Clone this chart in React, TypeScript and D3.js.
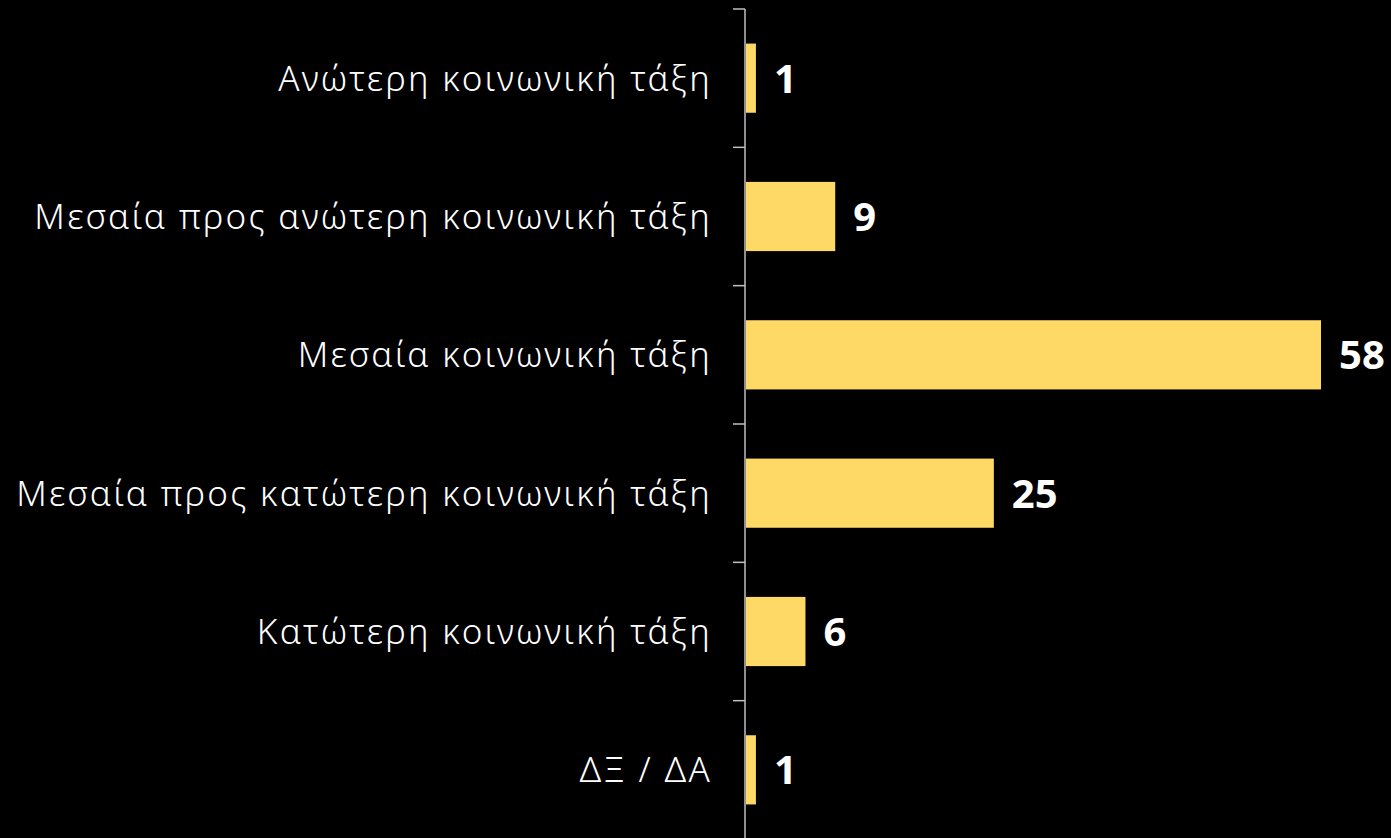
import React, { useEffect, useRef } from 'react';
import * as d3 from 'd3';

// categories top to bottom, values in %
const categories = [
    'Ανώτερη κοινωνική τάξη',
    'Μεσαία προς ανώτερη κοινωνική τάξη',
    'Μεσαία κοινωνική τάξη',
    'Μεσαία προς κατώτερη κοινωνική τάξη',
    'Κατώτερη κοινωνική τάξη',
    'ΔΞ / ΔΑ',
];
const values = [1, 9, 58, 25, 6, 1];

const width = 1391;
const height = 838;
const margin = { top: 9, left: 745, right: 70, bottom: -1 };
const barColor = '#FFD966';
const axisColor = '#BFBFBF';

const App = () => {
    const svgRef = useRef<SVGSVGElement | null>(null);

    useEffect(() => {
        document.body.style.margin = '0';
        document.body.style.background = '#000';
        const svg = d3.select(svgRef.current);
        svg.selectAll('*').remove();

        const data = categories.map((c, i) => ({ label: c, value: values[i] }));

        const x = d3.scaleLinear()
            .domain([0, d3.max(values) as number])
            .range([margin.left + 1, width - margin.right]);

        const y = d3.scaleBand()
            .domain(categories)
            .range([margin.top, height - margin.bottom])
            .paddingInner(0.5)
            .paddingOuter(0.25);

        const gap = (y.step() - y.bandwidth()) / 2;
        const boundaries = categories.map(c => (y(c) as number) - gap);
        boundaries.push((y(categories[categories.length - 1]) as number) + y.bandwidth() + gap);

        svg.append('rect')
            .attr('width', width)
            .attr('height', height)
            .attr('fill', '#000');

        svg.append('g')
            .selectAll('rect')
            .data(data)
            .join('rect')
            .attr('x', x(0))
            .attr('y', d => y(d.label) as number)
            .attr('width', d => x(d.value) - x(0))
            .attr('height', y.bandwidth())
            .attr('fill', barColor);

        // axis line + ticks on band boundaries
        const axis = svg.append('g');
        axis.append('line')
            .attr('x1', margin.left).attr('x2', margin.left)
            .attr('y1', margin.top).attr('y2', height)
            .attr('stroke', axisColor)
            .attr('stroke-width', 1.5);
        axis.selectAll('line.tick')
            .data(boundaries)
            .join('line')
            .attr('class', 'tick')
            .attr('x1', margin.left - 12).attr('x2', margin.left)
            .attr('y1', d => d).attr('y2', d => d)
            .attr('stroke', axisColor)
            .attr('stroke-width', 1.5);

        svg.append('g')
            .selectAll('text')
            .data(data)
            .join('text')
            .attr('x', margin.left - 33)
            .attr('y', d => (y(d.label) as number) + y.bandwidth() / 2)
            .attr('dy', '0.36em')
            .attr('text-anchor', 'end')
            .attr('fill', '#fff')
            .style('font-family', '"Noto Sans", sans-serif')
            .style('font-size', '35px')
            .style('font-weight', 300)
            .style('letter-spacing', '2.3px')
            .text(d => d.label);

        svg.append('g')
            .selectAll('text')
            .data(data)
            .join('text')
            .attr('x', d => x(d.value) + 18)
            .attr('y', d => (y(d.label) as number) + y.bandwidth() / 2)
            .attr('dy', '0.36em')
            .attr('fill', '#fff')
            .style('font-family', '"Noto Sans", sans-serif')
            .style('font-size', '40px')
            .style('font-weight', 700)
            .text(d => d.value);
    }, []);

    return <svg ref={svgRef} width={width} height={height} style={{ display: 'block' }}></svg>;
};

export default App;
